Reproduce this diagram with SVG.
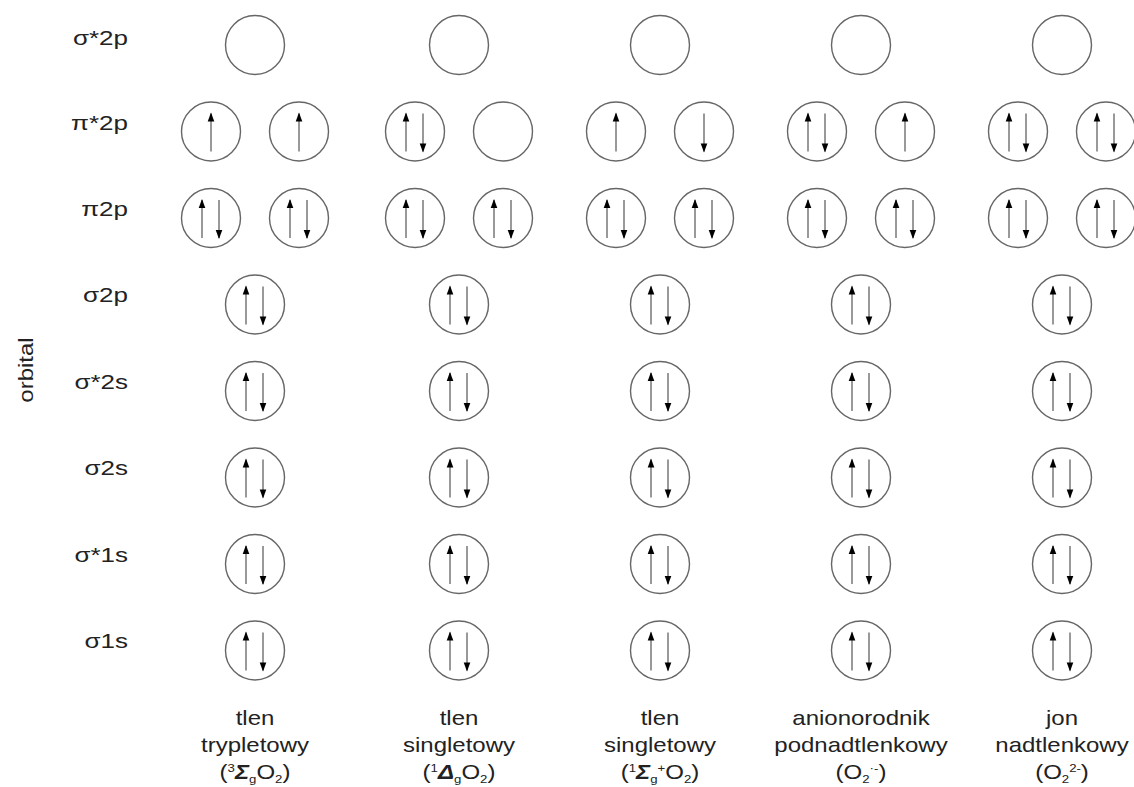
<svg xmlns="http://www.w3.org/2000/svg" xmlns:xlink="http://www.w3.org/1999/xlink" width="1134" height="787" viewBox="0 0 1134 787">
<style>
text{font-family:"Liberation Sans",Arial,sans-serif;fill:#222;font-size:20px}
.orb{fill:#fff;stroke:#666;stroke-width:1.4}
.e{stroke:#555;stroke-width:1.2;fill:none;marker-end:url(#ah)}
.lbl{text-anchor:end}
.cap{text-anchor:middle}
</style>
<defs>
<marker id="ah" markerUnits="userSpaceOnUse" markerWidth="12" markerHeight="10" refX="0" refY="0" viewBox="-10 -5 12 10" orient="auto"><path d="M1,0 L-8,-3.3 L-8,3.3 Z" fill="#000"/></marker>
<g id="o0"><circle class="orb" r="29.5"/></g>
<g id="ou"><circle class="orb" r="29.5"/><line class="e" x1="0" y1="20" x2="0" y2="-18"/></g>
<g id="od"><circle class="orb" r="29.5"/><line class="e" x1="0" y1="-18" x2="0" y2="20"/></g>
<g id="op"><circle class="orb" r="29.5"/><line class="e" x1="-9" y1="20" x2="-9" y2="-18"/><line class="e" x1="8" y1="-18" x2="8" y2="20"/></g>
</defs>
<rect width="1134" height="787" fill="#fff"/>
<g id="row-labels">
<text class="lbl" transform="translate(128,45) scale(1.3,1)">σ*2p</text>
<text class="lbl" transform="translate(128,130) scale(1.3,1)">π*2p</text>
<text class="lbl" transform="translate(128,216) scale(1.3,1)">π2p</text>
<text class="lbl" transform="translate(128,302) scale(1.3,1)">σ2p</text>
<text class="lbl" transform="translate(128,389) scale(1.3,1)">σ*2s</text>
<text class="lbl" transform="translate(128,475) scale(1.3,1)">σ2s</text>
<text class="lbl" transform="translate(128,562) scale(1.3,1)">σ*1s</text>
<text class="lbl" transform="translate(128,648) scale(1.3,1)">σ1s</text>
<text class="cap" transform="translate(33,370) rotate(-90) scale(1.2,1)" font-size="22">orbital</text>
</g>
<g id="connectors"/>
<g id="col1">
<use id="c1-s2pstar" xlink:href="#o0" x="255" y="45"/>
<use id="c1-pistar-a" xlink:href="#ou" x="211" y="131.5"/>
<use id="c1-pistar-b" xlink:href="#ou" x="299" y="131.5"/>
<use id="c1-pi-a" xlink:href="#op" x="211" y="218"/>
<use id="c1-pi-b" xlink:href="#op" x="299" y="218"/>
<use id="c1-s2p" xlink:href="#op" x="255" y="304.5"/>
<use id="c1-s2sstar" xlink:href="#op" x="255" y="391"/>
<use id="c1-s2s" xlink:href="#op" x="255" y="477.5"/>
<use id="c1-s1sstar" xlink:href="#op" x="255" y="564"/>
<use id="c1-s1s" xlink:href="#op" x="255" y="650.5"/>
</g>
<g id="col2">
<use id="c2-s2pstar" xlink:href="#o0" x="459" y="45"/>
<use id="c2-pistar-a" xlink:href="#op" x="415" y="131.5"/>
<use id="c2-pistar-b" xlink:href="#o0" x="503" y="131.5"/>
<use id="c2-pi-a" xlink:href="#op" x="415" y="218"/>
<use id="c2-pi-b" xlink:href="#op" x="503" y="218"/>
<use id="c2-s2p" xlink:href="#op" x="459" y="304.5"/>
<use id="c2-s2sstar" xlink:href="#op" x="459" y="391"/>
<use id="c2-s2s" xlink:href="#op" x="459" y="477.5"/>
<use id="c2-s1sstar" xlink:href="#op" x="459" y="564"/>
<use id="c2-s1s" xlink:href="#op" x="459" y="650.5"/>
</g>
<g id="col3">
<use id="c3-s2pstar" xlink:href="#o0" x="660" y="45"/>
<use id="c3-pistar-a" xlink:href="#ou" x="616" y="131.5"/>
<use id="c3-pistar-b" xlink:href="#od" x="704" y="131.5"/>
<use id="c3-pi-a" xlink:href="#op" x="616" y="218"/>
<use id="c3-pi-b" xlink:href="#op" x="704" y="218"/>
<use id="c3-s2p" xlink:href="#op" x="660" y="304.5"/>
<use id="c3-s2sstar" xlink:href="#op" x="660" y="391"/>
<use id="c3-s2s" xlink:href="#op" x="660" y="477.5"/>
<use id="c3-s1sstar" xlink:href="#op" x="660" y="564"/>
<use id="c3-s1s" xlink:href="#op" x="660" y="650.5"/>
</g>
<g id="col4">
<use id="c4-s2pstar" xlink:href="#o0" x="861" y="45"/>
<use id="c4-pistar-a" xlink:href="#op" x="817" y="131.5"/>
<use id="c4-pistar-b" xlink:href="#ou" x="905" y="131.5"/>
<use id="c4-pi-a" xlink:href="#op" x="817" y="218"/>
<use id="c4-pi-b" xlink:href="#op" x="905" y="218"/>
<use id="c4-s2p" xlink:href="#op" x="861" y="304.5"/>
<use id="c4-s2sstar" xlink:href="#op" x="861" y="391"/>
<use id="c4-s2s" xlink:href="#op" x="861" y="477.5"/>
<use id="c4-s1sstar" xlink:href="#op" x="861" y="564"/>
<use id="c4-s1s" xlink:href="#op" x="861" y="650.5"/>
</g>
<g id="col5">
<use id="c5-s2pstar" xlink:href="#o0" x="1062" y="45"/>
<use id="c5-pistar-a" xlink:href="#op" x="1018" y="131.5"/>
<use id="c5-pistar-b" xlink:href="#op" x="1106" y="131.5"/>
<use id="c5-pi-a" xlink:href="#op" x="1018" y="218"/>
<use id="c5-pi-b" xlink:href="#op" x="1106" y="218"/>
<use id="c5-s2p" xlink:href="#op" x="1062" y="304.5"/>
<use id="c5-s2sstar" xlink:href="#op" x="1062" y="391"/>
<use id="c5-s2s" xlink:href="#op" x="1062" y="477.5"/>
<use id="c5-s1sstar" xlink:href="#op" x="1062" y="564"/>
<use id="c5-s1s" xlink:href="#op" x="1062" y="650.5"/>
</g>
<g id="captions">
<g id="cap1" transform="translate(255,0)">
<text class="cap" transform="translate(0,725) scale(1.2,1)">tlen</text>
<text class="cap" transform="translate(0,752) scale(1.2,1)">trypletowy</text>
<text class="cap" transform="translate(0,779) scale(1.2,1)">(<tspan font-size="11" dy="-7">3</tspan><tspan dy="7" font-style="italic" font-weight="bold">Σ</tspan><tspan font-size="11" dy="4">g</tspan><tspan dy="-4">O</tspan><tspan font-size="11" dy="4">2</tspan><tspan dy="-4">)</tspan></text>
</g>
<g id="cap2" transform="translate(459,0)">
<text class="cap" transform="translate(0,725) scale(1.2,1)">tlen</text>
<text class="cap" transform="translate(0,752) scale(1.2,1)">singletowy</text>
<text class="cap" transform="translate(0,779) scale(1.2,1)">(<tspan font-size="11" dy="-7">1</tspan><tspan dy="7" font-style="italic" font-weight="bold">Δ</tspan><tspan font-size="11" dy="4">g</tspan><tspan dy="-4">O</tspan><tspan font-size="11" dy="4">2</tspan><tspan dy="-4">)</tspan></text>
</g>
<g id="cap3" transform="translate(660,0)">
<text class="cap" transform="translate(0,725) scale(1.2,1)">tlen</text>
<text class="cap" transform="translate(0,752) scale(1.2,1)">singletowy</text>
<text class="cap" transform="translate(0,779) scale(1.2,1)">(<tspan font-size="11" dy="-7">1</tspan><tspan dy="7" font-style="italic" font-weight="bold">Σ</tspan><tspan font-size="11" dy="4">g</tspan><tspan font-size="11" dy="-11">+</tspan><tspan dy="7">O</tspan><tspan font-size="11" dy="4">2</tspan><tspan dy="-4">)</tspan></text>
</g>
<g id="cap4" transform="translate(861,0)">
<text class="cap" transform="translate(0,725) scale(1.2,1)">anionorodnik</text>
<text class="cap" transform="translate(0,752) scale(1.2,1)">podnadtlenkowy</text>
<text class="cap" transform="translate(0,779) scale(1.2,1)">(O<tspan font-size="11" dy="4">2</tspan><tspan font-size="11" dy="-11">·-</tspan><tspan dy="7">)</tspan></text>
</g>
<g id="cap5" transform="translate(1062,0)">
<text class="cap" transform="translate(0,725) scale(1.2,1)">jon</text>
<text class="cap" transform="translate(0,752) scale(1.2,1)">nadtlenkowy</text>
<text class="cap" transform="translate(0,779) scale(1.2,1)">(O<tspan font-size="11" dy="4">2</tspan><tspan font-size="11" dy="-11">2-</tspan><tspan dy="7">)</tspan></text>
</g>
</g>
</svg>
